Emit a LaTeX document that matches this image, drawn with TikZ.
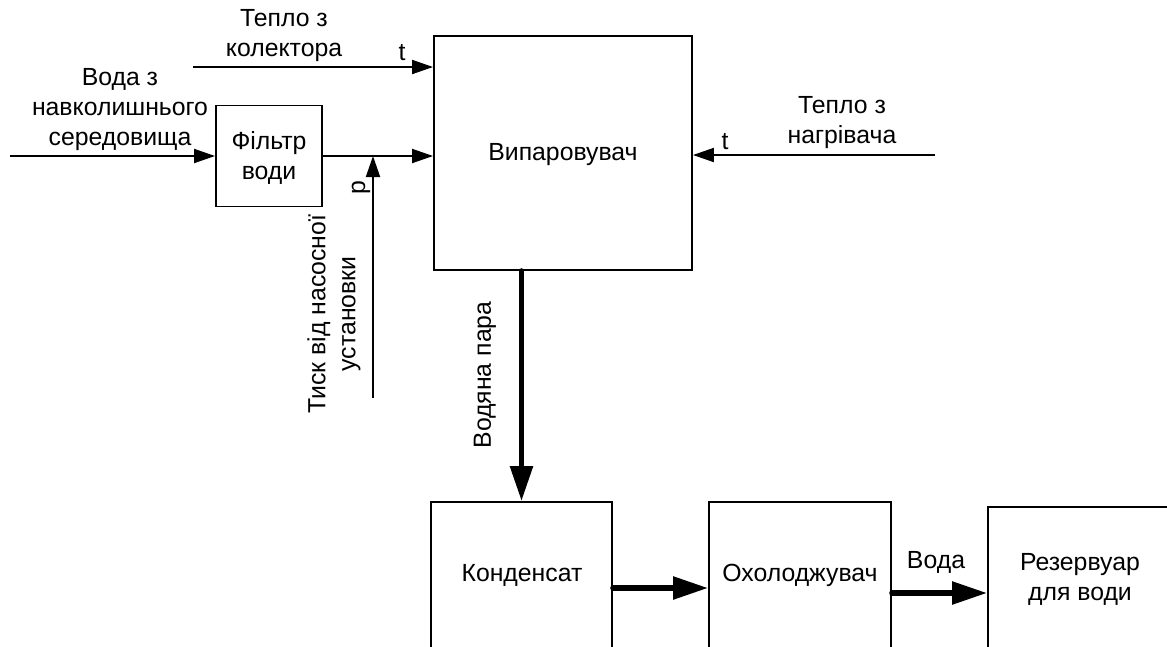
\documentclass[tikz,border=0pt]{standalone}
\usepackage{fontspec}
\setmainfont{Liberation Sans}
\usetikzlibrary{arrows.meta}
\begin{document}
\begin{tikzpicture}[x=1pt,y=-1pt,
  font=\fontsize{24.8}{30}\selectfont,
  box/.style={draw,line width=1.9pt,inner sep=0pt},
  thinarrow/.style={line width=1.9pt,-{Triangle[length=21pt,width=14pt]}},
  thickarrow/.style={line width=5.5pt,line cap=round,-{Triangle[length=35pt,width=22pt]}},
  lbl/.style={align=center,inner sep=0pt}]
\useasboundingbox (0,0) rectangle (1167,646);
\clip (0,0) rectangle (1167,646);
% boxes
\node[box,minimum width=106pt,minimum height=101pt] (filter) at (269,156) {};
\node[box,minimum width=258pt,minimum height=234pt] (evap) at (563,153) {};
\node[box,minimum width=181pt,minimum height=198pt] (cond) at (521.5,601) {};
\node[box,minimum width=182pt,minimum height=198pt] (cool) at (800,601) {};
\node[box,minimum width=212pt,minimum height=193pt] (res) at (1094,603.5) {};
% box texts
\node[lbl] (tfilter) at (269,158) {Фільтр\\води};
\node[lbl] (tevap) at (563,155) {Випаровувач};
\node[lbl] (tcond) at (522,575) {Конденсат};
\node[lbl] (tcool) at (800,575) {Охолоджувач};
\node[lbl] (tres) at (1080,579) {Резервуар\\для води};
% free ends and levels
\coordinate (kin) at (193,67);
\coordinate (win) at (10,156);
\coordinate (pin) at (373,398);
\coordinate (hin) at (935,155);
\coordinate (lvl1) at (0,588);
\coordinate (lvl2) at (0,593);
% connectors
\draw[thinarrow] (kin) -- (kin -| evap.west);
\draw[thinarrow] (win) -- (win -| filter.west);
\draw[thinarrow] (filter.east) -- (filter.east -| evap.west);
\draw[thinarrow] (pin) -- (pin |- filter.east);
\draw[thinarrow] (hin) -- (hin -| evap.east);
\draw[thickarrow] (cond.north |- evap.south) -- (cond.north);
\draw[thickarrow] (cond.east |- lvl1) -- (cool.west |- lvl1);
\draw[thickarrow] (cool.east |- lvl2) -- (res.west |- lvl2);
% labels
\node[lbl] (lkol) at (284,36) {Тепло з\\колектора};
\node[lbl] (t1) at (402,53) {t};
\node[lbl] (lwater) at (120,110) {Вода з\\навколишнього\\середовища};
\node[lbl,rotate=90] (lp) at (361,188) {p};
\node[lbl,rotate=90] (lpress) at (334,314) {Тиск від насосної\\установки};
\node[lbl,rotate=90] (lsteam) at (485,375) {Водяна пара};
\node[lbl] (t2) at (725,142) {t};
\node[lbl] (lheat) at (842,123) {Тепло з\\нагрівача};
\node[lbl] (lvoda) at (936,562) {Вода};
\end{tikzpicture}
\end{document}
